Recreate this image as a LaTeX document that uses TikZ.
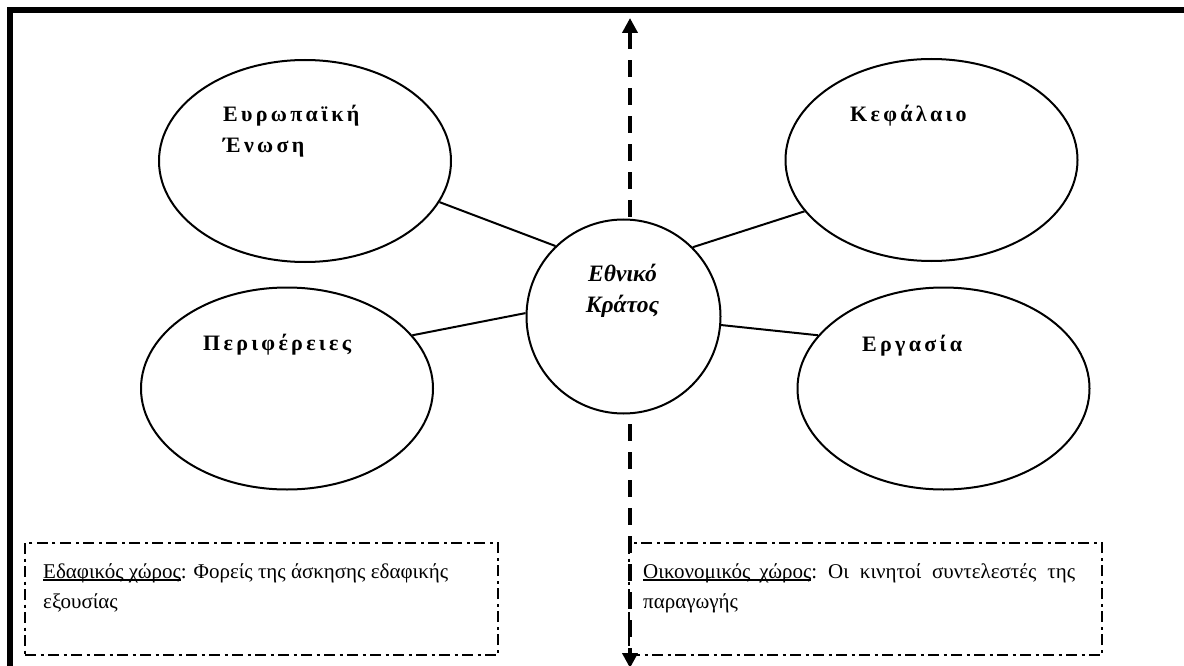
\documentclass[tikz,border=0pt]{standalone}
\usepackage{fontspec}
\setmainfont{Liberation Serif}
\newfontfamily\spacedbf[LetterSpace=15]{Liberation Serif}
\usetikzlibrary{shapes.geometric,arrows.meta}
\newcommand\myul[1]{\setbox0\hbox{#1}\rlap{\rule[-2.5pt]{\wd0}{1.2pt}}\box0}
\newcommand\wsp{\hskip 5pt plus 1fil\relax}
\begin{document}
\begin{tikzpicture}[x=1pt,y=-1pt,
  bubble/.style={draw, line width=2pt, ellipse, minimum width=292pt, minimum height=202pt, inner sep=0pt, fill=white},
  hub/.style={draw, circle, line width=2pt, minimum size=194pt, inner sep=0pt, fill=white},
  link/.style={line width=2pt},
  field/.style={draw, line width=2.8pt, dash pattern=on 11pt off 4.5pt on 3pt off 4.5pt, minimum width=473pt, minimum height=112pt, inner sep=0pt},
  axis/.style={line width=4pt, dash pattern=on 17pt off 11pt, {Triangle[length=15pt,width=15pt]}-{Triangle[length=15pt,width=15pt]}},
  lbl/.style={font=\spacedbf\bfseries\fontsize{22}{31}\selectfont, inner sep=0pt, anchor=base west},
  hubtext/.style={font=\bfseries\itshape\fontsize{23.5}{31}\selectfont, inner sep=0pt, anchor=base},
  note/.style={font=\fontsize{21}{30}\selectfont, inner sep=0pt, anchor=base west}]
\useasboundingbox (0,0) rectangle (1184,666);
% frame
\draw[line width=6pt, line join=miter] (10,672) -- (10,10) -- (1192,10);
% axis arrow
\coordinate (top) at (630,18);
\coordinate (bot) at (630,668);
\draw[axis] (top) -- (bot);
% boxes
\node[field] (lbox) at (261.5,599) {};
\node[field] (rbox) at (865.5,599) {};
% bubbles
\node[bubble] (eu) at (305,161) {};
\node[bubble] (kef) at (931.5,160) {};
\node[bubble] (per) at (287,388.5) {};
\node[bubble] (erg) at (943.5,388.5) {};
\node[hub] (nc) at (623.5,316.5) {};
% connectors
\draw[link] (eu.-17.5) -- (nc.134.6);
\draw[link] (kef.-158.7) -- (nc.45.4);
\draw[link] (per.23) -- (nc.178.5);
\draw[link] (erg.157) -- (nc.-5.5);
% labels
\node[lbl] (euT) at (223,122) {\vtop{\hbox{Ευρωπαϊκή}\hbox{Ένωση}}};
\node[lbl] (kefT) at (850,122) {Κεφάλαιο};
\node[lbl] (perT) at (203,350) {Περιφέρειες};
\node[lbl] (ergT) at (862,351) {Εργασία};
\node[hubtext] (ncT) at (622.5,281) {\vtop{\hbox to 90pt{\hfil Εθνικό\hfil}\hbox to 90pt{\hfil Κράτος\hfil}}};
\node[note] (lT) at (43,578) {\vtop{\hbox{\myul{Εδαφικός χώρος}: Φορείς της άσκησης εδαφικής}\hbox{εξουσίας}}};
\node[note] (rT) at (643,578) {\vtop{\hbox to 432pt{\myul{Οικονομικός\hskip 9pt χώρος}:\wsp Οι\wsp κινητοί\wsp συντελεστές\wsp της}\hbox{παραγωγής}}};
\end{tikzpicture}
\end{document}
